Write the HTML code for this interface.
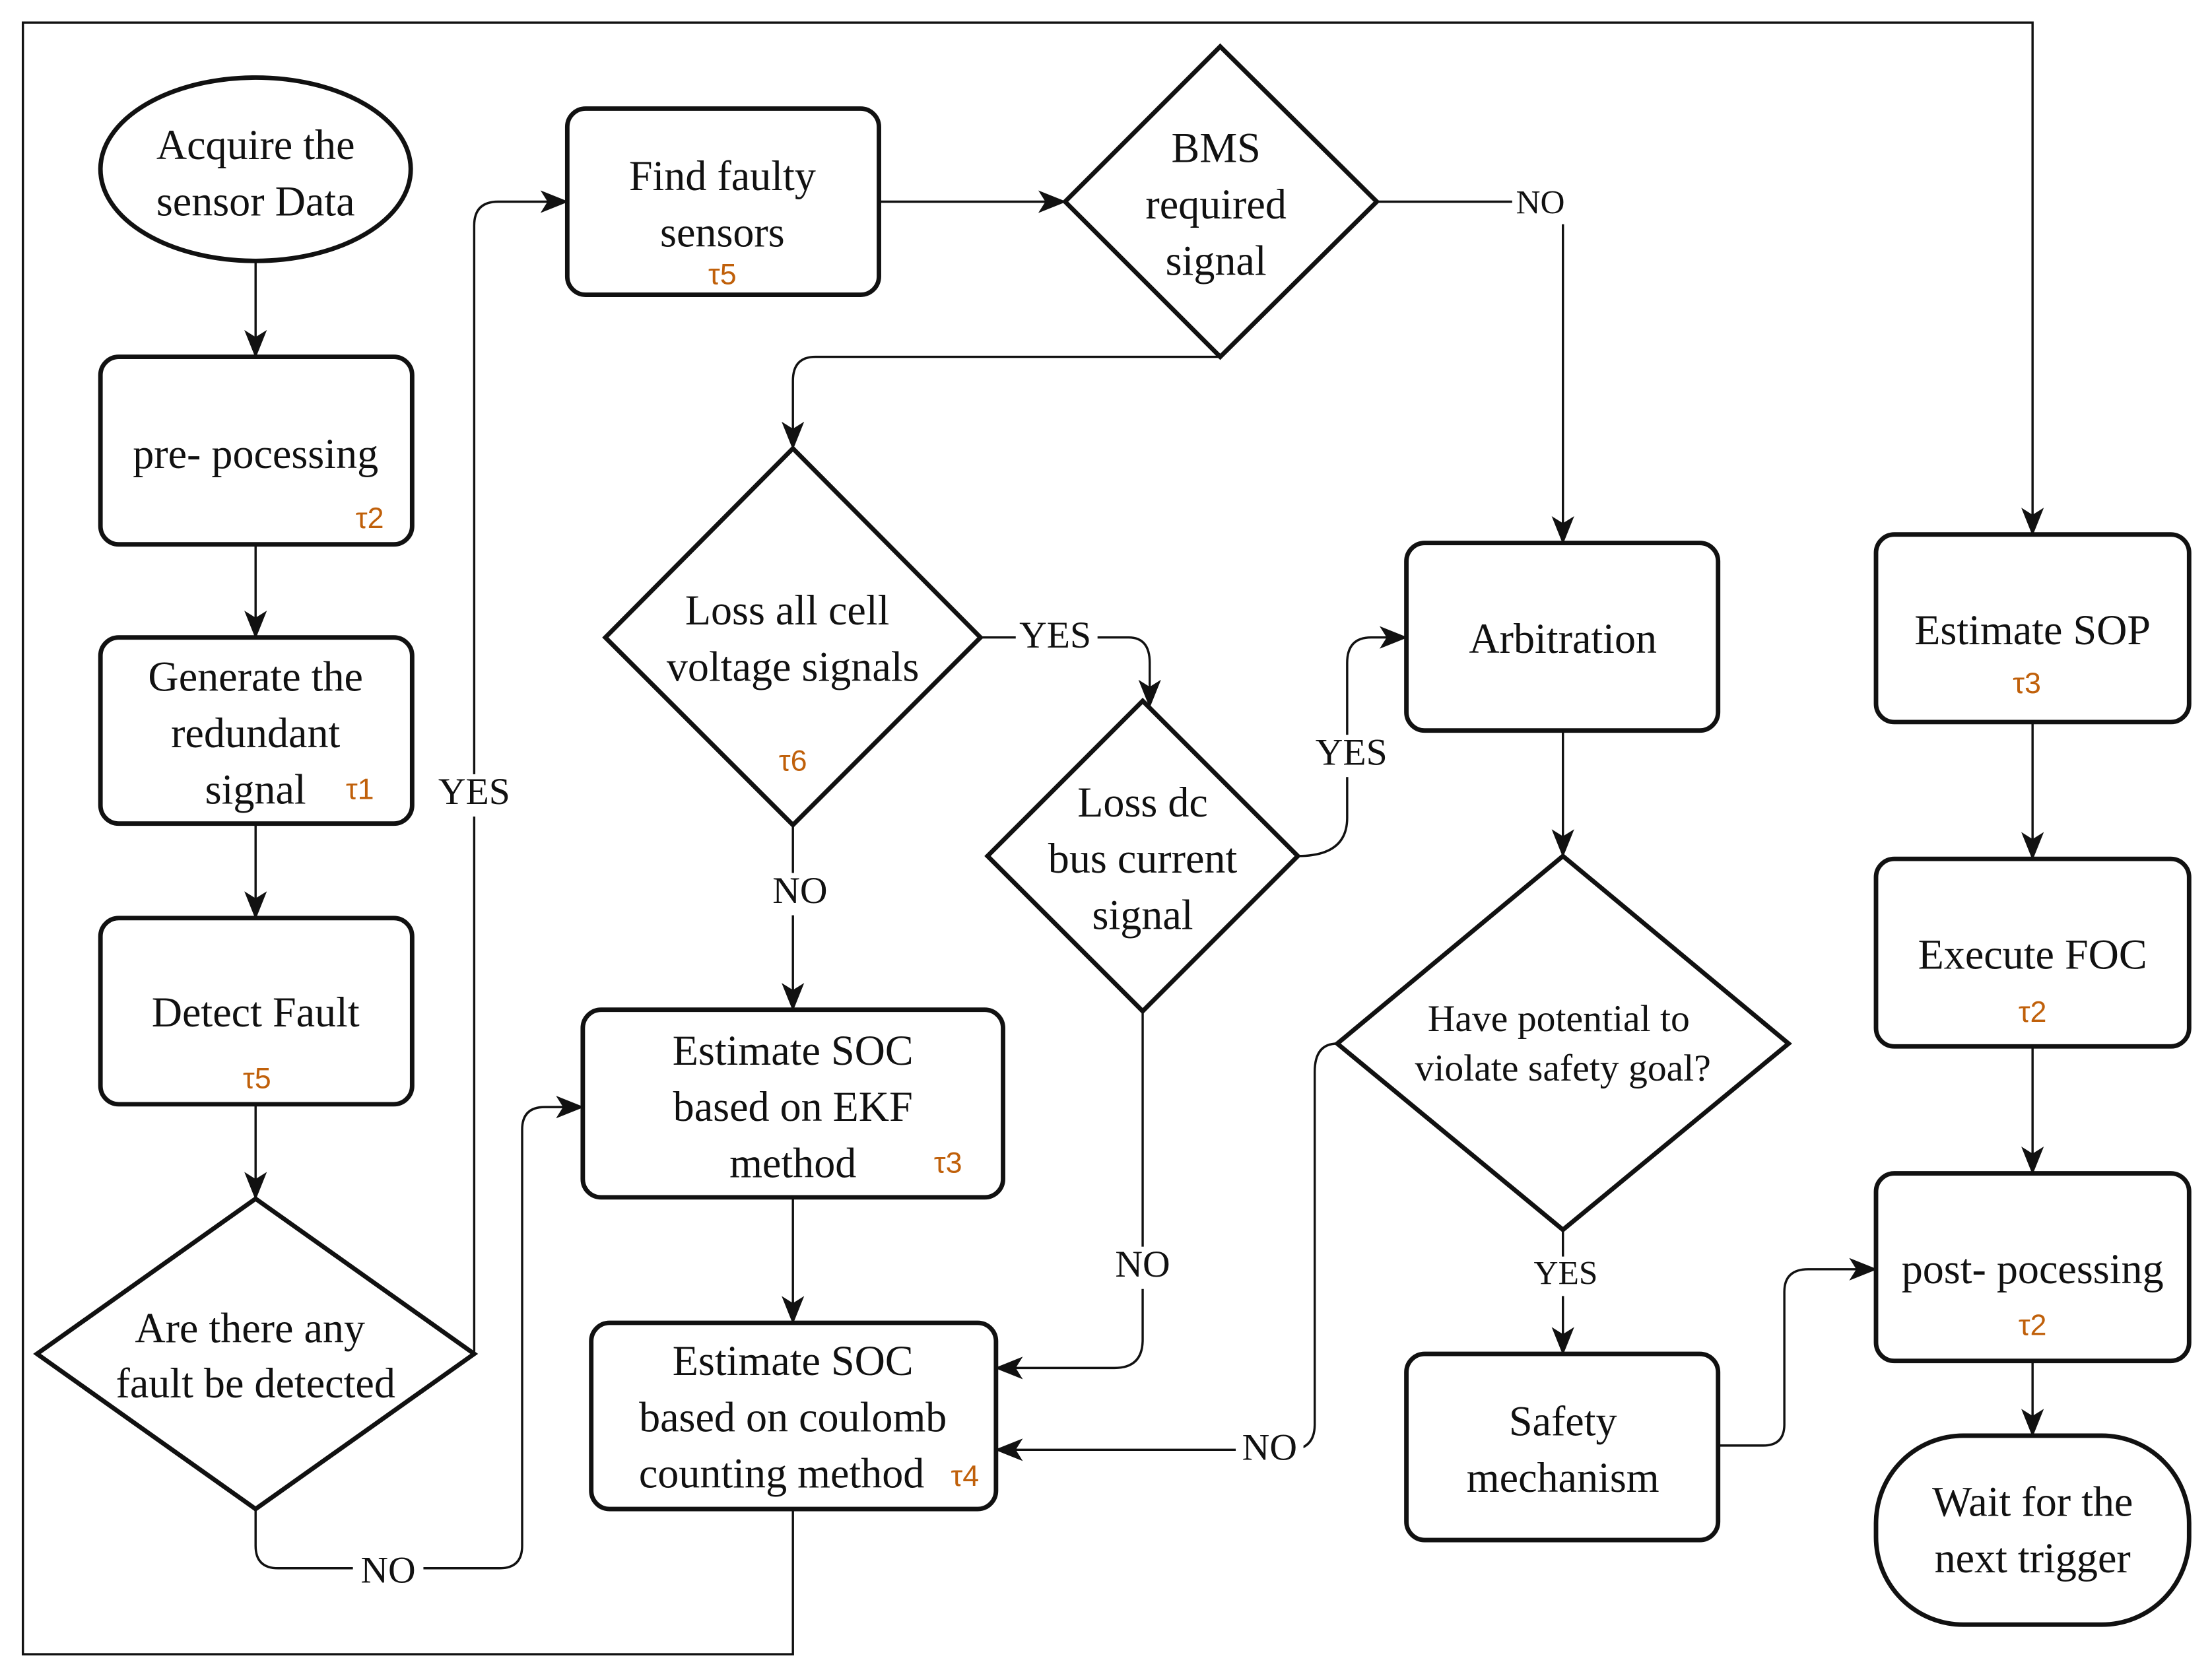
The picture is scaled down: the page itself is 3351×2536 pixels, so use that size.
<!DOCTYPE html>
<html><head><meta charset="utf-8"><style>
html,body{margin:0;padding:0;background:#fff;}
svg{display:block;}
text{font-family:"Liberation Serif","Times New Roman",serif;font-size:30px;fill:#111;text-anchor:middle;dominant-baseline:middle;}
.t{font-family:"Liberation Sans",sans-serif;font-size:21px;fill:#c0600a;}
.l{font-size:27px;}
.b{fill:#fff;stroke:#111;stroke-width:3.2;}
.c{fill:none;stroke:#111;stroke-width:1.6;}
</style></head><body>
<svg width="3351" height="2536" viewBox="0 0 1568 1187" xmlns="http://www.w3.org/2000/svg">
<defs>
<marker id="A" markerWidth="20" markerHeight="20" refX="18" refY="10" orient="auto" markerUnits="userSpaceOnUse" viewBox="0 0 20 20"><path d="M0,2 L20,10 L0,18 L5,10z" fill="#111"/></marker></defs>

<path class="c" d="M562,1070 V1173 H16 V16 H1441 V378" marker-end="url(#A)"/>

<path class="c" d="M181,185 V252" marker-end="url(#A)"/>
<path class="c" d="M181,386 V451" marker-end="url(#A)"/>
<path class="c" d="M181,584 V650" marker-end="url(#A)"/>
<path class="c" d="M181,783 V849" marker-end="url(#A)"/>
<path class="c" d="M336,960 V160 Q336,143 353,143 H401" marker-end="url(#A)"/>
<path class="c" d="M181,1070 V1096 Q181,1112 197,1112 H354 Q370,1112 370,1096 V801 Q370,785 386,785 H412" marker-end="url(#A)"/>

<path class="c" d="M623,143 H754" marker-end="url(#A)"/>
<path class="c" d="M976,143 H1092 Q1108,143 1108,159 V384" marker-end="url(#A)"/>
<path class="c" d="M865,253 H578 Q562,253 562,270 V317" marker-end="url(#A)"/>
<path class="c" d="M695,452 H800 Q815,452 815,470 V500" marker-end="url(#A)"/>
<path class="c" d="M562,585 V715" marker-end="url(#A)"/>
<path class="c" d="M562,849 V937" marker-end="url(#A)"/>
<path class="c" d="M920,607 Q955,607 955,580 V470 Q955,452 972,452 H996" marker-end="url(#A)"/>
<path class="c" d="M810,717 V950 Q810,970 790,970 H707" marker-end="url(#A)"/>
<path class="c" d="M1108,518 V606" marker-end="url(#A)"/>
<path class="c" d="M1108,872 V959" marker-end="url(#A)"/>
<path class="c" d="M948,740 Q932,740 932,760 V1010 Q932,1028 914,1028 H707" marker-end="url(#A)"/>
<path class="c" d="M1218,1025 H1250 Q1265,1025 1265,1010 V916 Q1265,900 1282,900 H1329" marker-end="url(#A)"/>
<path class="c" d="M1441,512 V608" marker-end="url(#A)"/>
<path class="c" d="M1441,742 V831" marker-end="url(#A)"/>
<path class="c" d="M1441,965 V1017" marker-end="url(#A)"/>

<ellipse class="b" cx="181" cy="120" rx="110" ry="65"/>
<rect class="b" x="71" y="253" width="221" height="133" rx="13"/>
<rect class="b" x="71" y="452" width="221" height="132" rx="13"/>
<rect class="b" x="71" y="651" width="221" height="132" rx="13"/>
<polygon class="b" points="181,850 336,960 181,1070 26,960"/>
<rect class="b" x="402" y="77" width="221" height="132" rx="13"/>
<polygon class="b" points="865,33 976,143 865,253 755,143"/>
<polygon class="b" points="562,318 695,452 562,585 429,452"/>
<polygon class="b" points="810,497 920,607 810,717 700,607"/>
<rect class="b" x="413" y="716" width="298" height="133" rx="13"/>
<rect class="b" x="419" y="938" width="287" height="132" rx="13"/>
<rect class="b" x="997" y="385" width="221" height="133" rx="13"/>
<polygon class="b" points="1108,607 1268,740 1108,872 948,740"/>
<rect class="b" x="997" y="960" width="221" height="132" rx="13"/>
<rect class="b" x="1330" y="379" width="222" height="133" rx="13"/>
<rect class="b" x="1330" y="609" width="222" height="133" rx="13"/>
<rect class="b" x="1330" y="832" width="222" height="133" rx="13"/>
<rect class="b" x="1330" y="1018" width="222" height="134" rx="62"/>

<g transform="translate(0,3)">
<rect x="306" y="546" width="60" height="30" fill="#fff"/><text x="336" y="561" class="l">YES</text>
<rect x="250" y="1098" width="50" height="28" fill="#fff"/><text x="275" y="1113" class="l">NO</text>
<rect x="1072" y="128" width="42" height="28" fill="#fff"/><text x="1092" y="143" style="font-size:24px">NO</text>
<rect x="720" y="436" width="58" height="30" fill="#fff"/><text x="748" y="450" class="l">YES</text>
<rect x="542" y="616" width="50" height="30" fill="#fff"/><text x="567" y="631" class="l">NO</text>
<rect x="928" y="518" width="60" height="30" fill="#fff"/><text x="958" y="533" class="l">YES</text>
<rect x="785" y="881" width="50" height="30" fill="#fff"/><text x="810" y="896" class="l">NO</text>
<rect x="1082" y="888" width="56" height="28" fill="#fff"/><text x="1110" y="902" style="font-size:24px">YES</text>
<rect x="876" y="1011" width="48" height="30" fill="#fff"/><text x="900" y="1026" class="l">NO</text>

<text x="181" y="103">Acquire the</text><text x="181" y="143">sensor Data</text>
<text x="181" y="322">pre- pocessing</text><text x="262" y="366" class="t">τ2</text>
<text x="181" y="480">Generate the</text><text x="181" y="520">redundant</text><text x="181" y="560">signal</text><text x="255" y="558" class="t">τ1</text>
<text x="181" y="718">Detect Fault</text><text x="182" y="763" class="t">τ5</text>
<text x="177" y="942">Are there any</text><text x="181" y="981">fault be detected</text>
<text x="512" y="125">Find faulty</text><text x="512" y="165">sensors</text><text x="512" y="193" class="t">τ5</text>
<text x="862" y="105">BMS</text><text x="862" y="145">required</text><text x="862" y="185">signal</text>
<text x="558" y="433">Loss all cell</text><text x="562" y="473">voltage signals</text><text x="562" y="538" class="t">τ6</text>
<text x="810" y="569">Loss dc</text><text x="810" y="609">bus current</text><text x="810" y="649">signal</text>
<text x="562" y="745">Estimate SOC</text><text x="562" y="785">based on EKF</text><text x="562" y="825">method</text><text x="672" y="823" class="t">τ3</text>
<text x="562" y="965">Estimate SOC</text><text x="562" y="1005">based on coulomb</text><text x="554" y="1045">counting method</text><text x="684" y="1045" class="t">τ4</text>
<text x="1108" y="453">Arbitration</text>
<text x="1105" y="722" style="font-size:27px">Have potential to</text><text x="1108" y="757" style="font-size:27px">violate safety goal?</text>
<text x="1108" y="1008">Safety</text><text x="1108" y="1048">mechanism</text>
<text x="1441" y="447">Estimate SOP</text><text x="1437" y="483" class="t">τ3</text>
<text x="1441" y="677">Execute FOC</text><text x="1441" y="716" class="t">τ2</text>
<text x="1441" y="900">post- pocessing</text><text x="1441" y="938" class="t">τ2</text>
<text x="1441" y="1065">Wait for the</text><text x="1441" y="1105">next trigger</text>
</g>
</svg>
</body></html>
